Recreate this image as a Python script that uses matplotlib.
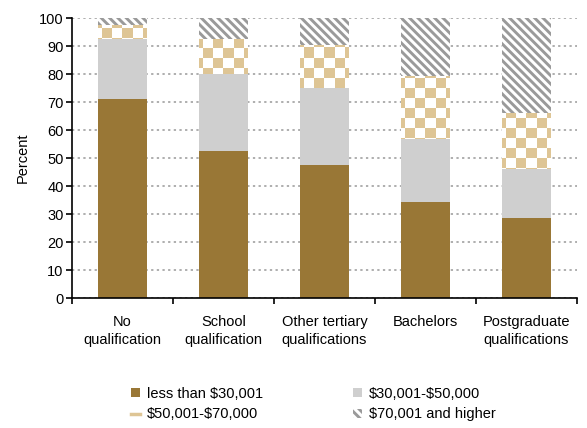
import numpy as np
import matplotlib.pyplot as plt
from matplotlib.patches import Patch
from matplotlib.lines import Line2D

plt.rcParams['font.family'] = ['Liberation Sans', 'DejaVu Sans']
plt.rcParams['font.size'] = 10.5
plt.rcParams['hatch.linewidth'] = 2.1

# Data (percent of each group)
categories = ['No\nqualification', 'School\nqualification', 'Other tertiary\nqualifications',
              'Bachelors', 'Postgraduate\nqualifications']
under_30k = [71, 52.5, 47.5, 34.3, 28.7]
k30_50 = [21.5, 27.5, 27.5, 22.5, 17.5]
k50_70 = [5, 12.5, 15.5, 22.5, 19.8]
over_70k = [2.5, 7.5, 9.5, 20.7, 34.0]
series_labels = [r'less than \$30,001', r'\$30,001-\$50,000', r'\$50,001-\$70,000', r'\$70,001 and higher']

BROWN = '#997736'
GREY = '#cfcfcf'
TAN = '#dec595'
HATCH_GREY = '#9a9a9a'

fig = plt.figure(figsize=(5.87, 4.28), dpi=100)
ax = fig.add_axes([72 / 587, 1 - 298 / 428, 505 / 587, 280 / 428])

x = np.arange(len(categories))
width = 0.48
b0 = np.zeros(len(x))
b1 = b0 + np.array(under_30k)
b2 = b1 + np.array(k30_50)
b3 = b2 + np.array(k50_70)

ax.bar(x, under_30k, width, bottom=b0, color=BROWN, zorder=2)
ax.bar(x, k30_50, width, bottom=b1, color=GREY, zorder=2)
checker_bars = ax.bar(x, k50_70, width, bottom=b2, color='white', zorder=2)
ax.bar(x, over_70k, width, bottom=b3, facecolor='white', edgecolor=HATCH_GREY,
       hatch='\\\\\\\\', linewidth=0, zorder=2)

# checkerboard fill (about 10 px squares) clipped to each $50-70k segment
nx, ny = 50, 28
chk = (np.add.outer(np.arange(ny), np.arange(nx)) % 2).astype(float)
rgba = np.ones((ny, nx, 4))
tan_rgb = np.array([0xde, 0xc5, 0x95]) / 255
rgba[chk == 1, :3] = tan_rgb
for bar in checker_bars:
    im = ax.imshow(rgba, extent=(-0.5, 4.5, 0, 100), aspect='auto',
                   interpolation='nearest', zorder=2.5, origin='lower')
    im.set_clip_path(bar)
ax.set_xlim(-0.5, 4.5)
ax.set_ylim(0, 100)

ax.set_yticks(range(0, 101, 10))
ax.yaxis.grid(True, linestyle=(0, (1.5, 2.2)), color='#999999', linewidth=1.1, zorder=0)
ax.set_axisbelow(True)

ax.set_xticks(x)
ax.set_xticklabels(categories, fontsize=10.5, linespacing=1.35)
ax.set_xticks(np.arange(-0.5, 5, 1), minor=True)
ax.tick_params(axis='x', which='major', length=0, pad=12)
ax.tick_params(axis='x', which='minor', length=4, width=1.2, direction='out')
ax.tick_params(axis='y', length=4, width=1.2, direction='out', pad=2)

for side in ['top', 'right']:
    ax.spines[side].set_visible(False)
for side in ['left', 'bottom']:
    ax.spines[side].set_linewidth(1.2)

ax.set_ylabel('Percent', labelpad=7)

handles = [
    Patch(facecolor=BROWN, edgecolor='none'),
    Line2D([], [], color=TAN, lw=2.5),
    Patch(facecolor=GREY, edgecolor='none'),
    Patch(facecolor='white', edgecolor=HATCH_GREY, hatch='\\\\\\\\', linewidth=0),
]
labels = [series_labels[0], series_labels[2], series_labels[1], series_labels[3]]
fig.legend(handles, labels, ncol=2, loc='upper left', bbox_to_anchor=(128 / 587, 1 - 384 / 428),
           frameon=False, handlelength=0.6, handleheight=0.6, handletextpad=0.5,
           columnspacing=6.15, labelspacing=0.45, fontsize=10.5, borderaxespad=0, borderpad=0.2)

fig.savefig('out.png', dpi=100)
